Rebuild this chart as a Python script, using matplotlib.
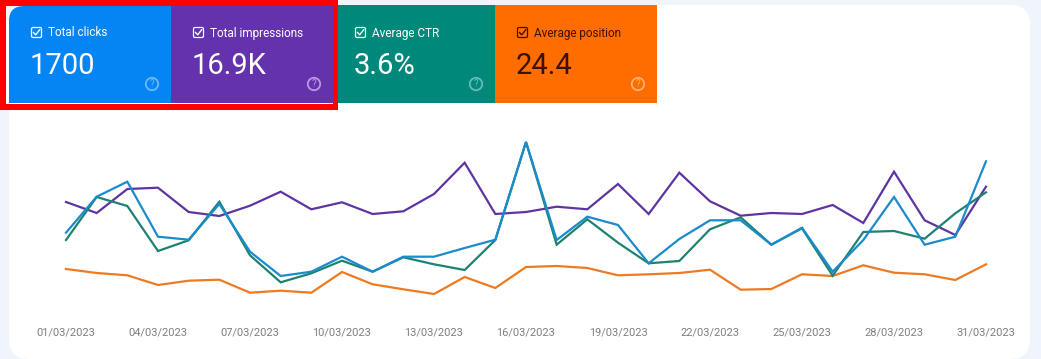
import matplotlib
matplotlib.use("Agg")
import matplotlib.pyplot as plt
from matplotlib.patches import Rectangle, FancyBboxPatch, Circle
import numpy as np

plt.rcParams['font.family'] = ['Roboto', 'DejaVu Sans']

W, H = 1041, 359

days = [f"{d:02d}/03/2023" for d in range(1, 32)]
tick_days = ["01/03/2023", "04/03/2023", "07/03/2023", "10/03/2023", "13/03/2023", "16/03/2023",
             "19/03/2023", "22/03/2023", "25/03/2023", "28/03/2023", "31/03/2023"]

# series values, in chart height units
clicks = [126.3, 162.3, 177.3, 122.3, 119.3, 155, 107.3, 83, 87.3, 102.3, 87.3, 102.3, 102.3, 111, 119.3, 217,
          119, 142.3, 134, 95.7, 120, 138.7, 138.7, 114.3, 131.3, 87.3, 119, 162, 114.3, 122.3, 197.7]
impressions = [157, 146, 170, 171.3, 147, 143, 153.3, 167.3, 149.7, 156.7, 145, 147.7, 165, 196.3, 145, 147,
               152.3, 149.7, 175, 145, 186.3, 157.7, 143.3, 146, 145, 154, 136, 187.3, 138.7, 124, 172.3]
ctr = [119, 162, 153, 108, 118.7, 157.3, 103.7, 76.7, 85.7, 98.3, 87.3, 101.7, 94.7, 89, 119, 217,
       114.3, 139.7, 116.3, 95.7, 98, 129.7, 141.7, 114.3, 130.7, 83.3, 127, 128, 120.3, 145.7, 166.7]
position = [90, 86, 83.7, 74, 78.3, 79.3, 66.3, 68.3, 66.3, 87, 74.7, 69.7, 65, 82, 71, 92,
            93, 91, 83.7, 84.7, 86, 89.3, 69.3, 70, 84.7, 83, 93.7, 86.3, 84.7, 79, 94.7]

tile_titles = ["Total clicks", "Total impressions", "Average CTR", "Average position"]
tile_values = ["1700", "16.9K", "3.6%", "24.4"]
tile_colors = ["#0585F4", "#6432AC", "#00897B", "#FF6D00"]
tile_edges = [(9, 171), (171, 333), (333, 495), (495, 657)]
ink_colors = ["white", "white", "white", "#3A1200"]
help_colors = ["#6FB8F8", "#B79BE0", "#66BDB3", "#FFB070"]

series = [
    (impressions, "#5E35A0"),
    (position, "#EE7A22"),
    (ctr, "#1E8272"),
    (clicks, "#1A8BCB"),
]

page = "#F0F4FB"
fig = plt.figure(figsize=(W / 100, H / 100), dpi=100, facecolor=page)

bg = fig.add_axes([0, 0, 1, 1], zorder=0)
bg.set_xlim(0, W)
bg.set_ylim(H, 0)
bg.axis("off")
bg.add_patch(FancyBboxPatch((9, 5), 1021, 354, boxstyle="round,pad=0,rounding_size=20",
                            fc="white", ec="none"))
# page colour behind the first tile's rounded corner
bg.add_patch(Rectangle((6, 6), 24, 24, fc=page, ec="none"))
bg.add_patch(Rectangle((6, 20), 3, 84, fc="white", ec="none"))

# tiles
for i, (x0, x1) in enumerate(tile_edges):
    if i == 0:
        bg.add_patch(FancyBboxPatch((x0, 6), 60, 60, boxstyle="round,pad=0,rounding_size=15",
                                    fc=tile_colors[i], ec="none"))
        bg.add_patch(Rectangle((x0 + 15, 6), x1 - x0 - 15, 97, fc=tile_colors[i], ec="none"))
        bg.add_patch(Rectangle((x0, 21), 20, 82, fc=tile_colors[i], ec="none"))
    else:
        bg.add_patch(Rectangle((x0, 5 if i > 1 else 6), x1 - x0, 98 if i > 1 else 97, fc=tile_colors[i], ec="none"))
    ink = ink_colors[i]
    cx = x0 + 27.5
    bg.add_patch(FancyBboxPatch((cx - 5, 27.5), 10, 10, boxstyle="round,pad=0,rounding_size=1.5",
                                fc="none", ec=ink, lw=0.9))
    bg.plot([cx - 3, cx - 0.8, cx + 3.2], [32.5, 34.8, 29.8], color=ink, lw=1.0)
    bg.text(x0 + 39, 33, tile_titles[i], color=ink, fontsize=8.5, va="center", ha="left")
    bg.text(x0 + 21, 66, tile_values[i], color=ink, fontsize=21, va="center", ha="left")
    hx = x1 - 19
    bg.add_patch(Circle((hx, 84), 6.2, fc="none", ec=help_colors[i], lw=1.3))
    bg.text(hx, 84.2, "?", color=help_colors[i], fontsize=7, ha="center", va="center")

# highlight frame
red = "#FE0000"
bg.add_patch(Rectangle((0, 0), 338, 6, fc=red, ec="none"))
bg.add_patch(Rectangle((0, 0), 6, 110, fc=red, ec="none"))
bg.add_patch(Rectangle((333, 0), 5, 110, fc=red, ec="none"))
bg.add_patch(Rectangle((0, 104), 338, 6, fc=red, ec="none"))
bg.add_patch(Rectangle((6, 103), 327, 1, fc="white", ec="none"))
bg.add_patch(Rectangle((0, 110), 9, 249, fc=page, ec="none"))

# chart: y units are height above a fixed baseline
ax = fig.add_axes([66 / W, 1 - 318 / H, (986 - 66) / W, (318 - 130) / H], zorder=1)
ax.patch.set_alpha(0)
x = np.arange(len(days))
for vals, col in series:
    ax.plot(x, vals, color=col, lw=1.6, solid_joinstyle="miter", clip_on=False)
ax.set_xlim(0, 30)
ax.set_ylim(41, 229)
ax.set_yticks([])
ax.set_xticks([days.index(d) for d in tick_days])
ax.set_xticklabels(tick_days, color="#7F7F7F", fontsize=7.9)
ax.tick_params(axis="x", length=0, pad=7)
for s in ax.spines.values():
    s.set_visible(False)

fig.savefig("out.png", dpi=100, facecolor=fig.get_facecolor())
